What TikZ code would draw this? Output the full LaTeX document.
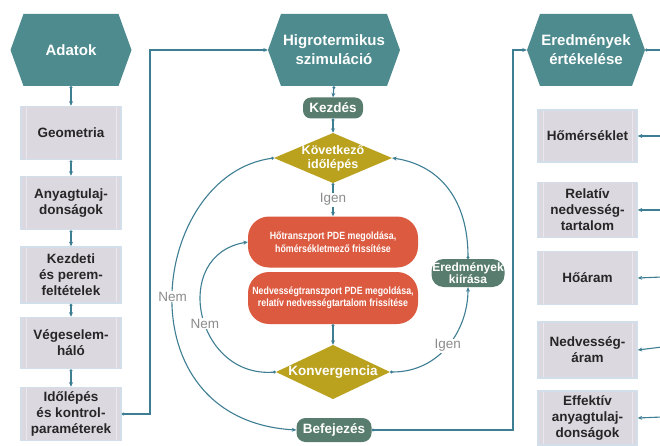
\documentclass[tikz,border=0pt]{standalone}
\usepackage{fontspec}
\setmainfont{Liberation Sans}
\newfontfamily\narrowfont[FakeStretch=0.84]{Liberation Sans}
\usetikzlibrary{arrows.meta}
\definecolor{hexcol}{HTML}{4E8B8E}
\definecolor{pillcol}{HTML}{587C6D}
\definecolor{diacol}{HTML}{BAA21F}
\definecolor{redcol}{HTML}{DC5A40}
\definecolor{boxcol}{HTML}{DCD8E0}
\definecolor{boxedge}{HTML}{D2DEEA}
\definecolor{boxinner}{HTML}{EAE8EE}
\definecolor{conncol}{HTML}{3D7E93}
\definecolor{lblcol}{HTML}{8C8C8C}
\begin{document}
\begin{tikzpicture}[x=1pt,y=1pt,
  hexnode/.style={minimum width=#1,minimum height=72pt,inner sep=0pt,text=white,
    font=\fontsize{15}{19}\selectfont\bfseries,align=center,
    path picture={\fill[hexcol]
      ([xshift=13pt]path picture bounding box.north west) --
      ([xshift=-13pt]path picture bounding box.north east) --
      (path picture bounding box.east) --
      ([xshift=-13pt]path picture bounding box.south east) --
      ([xshift=13pt]path picture bounding box.south west) --
      (path picture bounding box.west) -- cycle;}},
  diam/.style={minimum width=#1,minimum height=52pt,inner sep=0pt,text=white,
    font=\fontsize{12.5}{14}\selectfont\bfseries,align=center,
    path picture={\fill[diacol]
      (path picture bounding box.west) --
      (path picture bounding box.north) --
      (path picture bounding box.east) --
      (path picture bounding box.south) -- cycle;}},
  boxnode/.style={fill=boxcol,draw=boxedge,line width=1.6pt,minimum width=100pt,
    minimum height=53pt,inner sep=0pt,align=center,text=black!85,
    font=\fontsize{13.5}{16}\selectfont\bfseries,
    path picture={\draw[boxinner,line width=1pt]
      ([xshift=5pt]path picture bounding box.north west) --
      ([xshift=5pt]path picture bounding box.south west)
      ([xshift=-5pt]path picture bounding box.north east) --
      ([xshift=-5pt]path picture bounding box.south east);}},
  pillnode/.style={fill=pillcol,rounded corners=#1,inner sep=0pt,text=white,
    align=center,font=\fontsize{13.5}{16}\selectfont\bfseries},
  redpill/.style={fill=redcol,rounded corners=21pt,minimum width=170pt,
    inner sep=0pt,text=white,align=center,
    font=\narrowfont\fontsize{10.5}{12.5}\selectfont\bfseries},
  conn/.style={draw=conncol,line width=1.1pt,
    {Circle[length=2.8pt]}-{Stealth[length=4.5pt,width=4pt]}},
  connin/.style={draw=conncol,line width=1.1pt,-{Stealth[length=4.5pt,width=4pt]}},
  connout/.style={draw=conncol,line width=1.1pt,{Circle[length=2.8pt]}-},
  lbl/.style={text=lblcol,font=\fontsize{13.5}{16}\selectfont,fill=white,inner sep=1pt}
]
\useasboundingbox[fill=white] (0,0) rectangle (660,-446);

% left column
\node[hexnode=121pt] (adatok) at (71,-50) {Adatok};
\node[boxnode] (geo) at (71,-133) {Geometria};
\node[boxnode] (anyag) at (71,-203) {Anyagtulaj-\\donságok};
\node[boxnode,minimum height=56pt] (kezd) at (71,-275) {Kezdeti\\és perem-\\feltételek};
\node[boxnode,minimum height=51pt] (veges) at (71,-343) {Végeselem-\\háló};
\node[boxnode] (idol) at (71,-414) {Időlépés\\és kontrol-\\paraméterek};

% centre column
\node[hexnode=132pt] (higro) at (334,-50) {Higrotermikus\\szimuláció};
\node[pillnode=8pt,minimum width=60pt,minimum height=21pt] (start) at (333,-108) {Kezdés};
\node[diam=118pt,minimum height=50pt] (kov) at (333,-158) {Következő\\időlépés};
\node[redpill,minimum height=51pt] (hot) at (333,-242) {Hőtranszport PDE megoldása,\\hőmérsékletmező frissítése};
\node[redpill,minimum height=52pt] (nedv) at (333,-298) {Nedvességtranszport PDE megoldása,\\relatív nedvességtartalom frissítése};
\node[diam=114pt,minimum height=54pt,font=\fontsize{13.5}{16}\selectfont\bfseries] (konv) at (333,-372) {Konvergencia};
\node[pillnode=9pt,minimum width=75pt,minimum height=24pt] (befej) at (334,-430) {Befejezés};
\node[pillnode=12pt,minimum width=73pt,minimum height=28pt,font=\fontsize{12}{12.5}\selectfont\bfseries] (kiir) at (468,-273) {Eredmények\\kiírása};

% right column
\node[hexnode=118pt] (eredm) at (586,-50) {Eredmények\\értékelése};
\node[boxnode,minimum width=99pt,minimum height=52pt] (homers) at (587.5,-136) {Hőmérséklet};
\node[boxnode,minimum width=99pt,minimum height=55pt] (relativ) at (587.5,-210) {Relatív\\nedvesség-\\tartalom};
\node[boxnode,minimum width=99pt,minimum height=53pt] (hoaram) at (587.5,-278) {Hőáram};
\node[boxnode,minimum width=99pt,minimum height=56pt] (nedvaram) at (587.5,-350) {Nedvesség-\\áram};
\node[boxnode,minimum width=99pt,minimum height=54pt] (effektiv) at (587.5,-418) {Effektív\\anyagtulaj-\\donságok};

% coordinates
\coordinate (lc) at (150,-50);
\coordinate (rc) at (513,-50);
\coordinate (eout) at (662,-50);
\coordinate (r1) at (662,-136);
\coordinate (r2) at (662,-210);
\coordinate (r3) at (662,-277);
\coordinate (r4) at (662,-347);
\coordinate (r5) at (662,-417);

% left connectors
\draw[conn] (adatok.south) -- (geo.north);
\draw[conn] (geo.south) -- (anyag.north);
\draw[conn] (anyag.south) -- (kezd.north);
\draw[conn] (kezd.south) -- (veges.north);
\draw[conn] (veges.south) -- (idol.north);
\draw[conn] (idol.east) -| (lc) -- (higro.west);

% centre connectors
\draw[conn] (higro.south) -- (start.north);
\draw[conn] (start.south) -- (kov.north);
\draw[conn] (kov.south) -- (hot.north) node[lbl,midway] (igen1) {Igen};
\draw[conn] (nedv.south) -- (konv.north);
\draw[conn] (kov.west) .. controls (150,-175) and (120,-420) .. (befej.west)
  node[lbl,pos=0.5] (nem1) {Nem};
\draw[conn] (konv.west) .. controls (195,-378) and (170,-255) .. (hot.west)
  node[lbl,pos=0.45] (nem2) {Nem};
\draw[conn] (konv.east) .. controls (440,-372) and (468,-330) .. (kiir.south)
  node[lbl,pos=0.5] (igen2) {Igen};
\draw[conn] (kiir.north) .. controls (468,-200) and (440,-165) .. (kov.east);
\draw[conn] (befej.east) -| (rc) -- (eredm.west);

% right connectors
\draw[connout] (eredm.east) -- (eout);
\draw[connin] (r1) -- (homers.east);
\draw[connin] (r2) -- (relativ.east);
\draw[connin] (r3) -- (hoaram.east);
\draw[connin] (r4) -- (nedvaram.east);
\draw[connin] (r5) -- (effektiv.east);
\end{tikzpicture}
\end{document}
